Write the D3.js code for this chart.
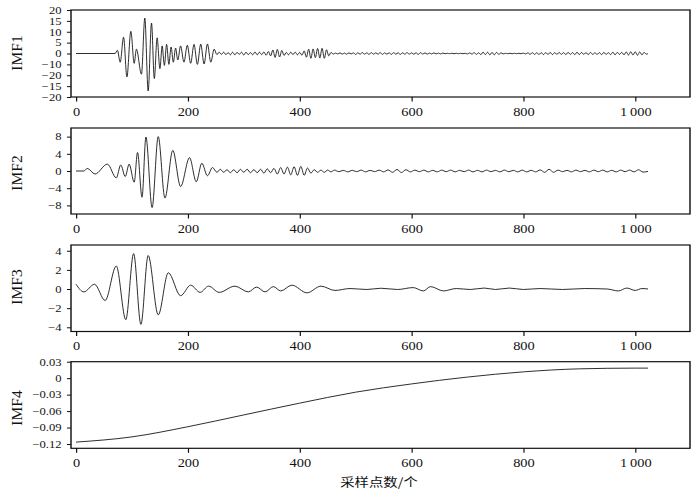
<!DOCTYPE html>
<html>
<head>
<meta charset="utf-8">
<script src="https://cdn.jsdelivr.net/npm/d3@7"></script>
<style>
  body { margin: 0; background: #fff; }
  svg { display: block; }
  text { font-family: "Liberation Serif", "DejaVu Serif", serif; fill: #111; }
</style>
</head>
<body>
<div id="chart"></div>
<script>
// x axis
var xTicks = [0, 200, 400, 600, 800, 1000];
var xTickLabels = ["0", "200", "400", "600", "800", "1\u2009000"];

// y axis ticks per panel (labels as printed in the figure)
var imf1Ticks = [20, 15, 10, 5, 0, -5, -10, -15, -20];
var imf1TickLabels = ["20", "15", "10", "5", "0", "\u221210", "\u221220", "\u221215", "\u221220"];
var imf2Ticks = [8, 4, 0, -4, -8];
var imf2TickLabels = ["8", "4", "0", "\u22124", "\u22128"];
var imf3Ticks = [4, 2, 0, -2, -4];
var imf3TickLabels = ["4", "2", "0", "\u22122", "\u22124"];
var imf4Ticks = [0.03, 0, -0.03, -0.06, -0.09, -0.12];
var imf4TickLabels = ["0.03", "0", "\u22120.03", "\u22120.06", "\u22120.09", "\u22120.12"];

// IMF1: extrema of the burst [sample, value], then half-cycle extrema every 4 samples
var imf1Burst = [[0,0],[70,0],[74,1.5],[79,-4],[85,7.5],[91,-10.8],[98,10.2],[104,-4.5],[108,2],
  [117,-9.5],[123,16.3],[129,-17.2],[135,14],[140,-11.5],[145,7.2],[150,-7],[154,3.5],[158,-5.5],
  [162,4.2],[166,-5],[170,3],[174,-4],[178,2.5],[182,-3],[187,3.5],[193,-4],[199,3.8],[205,-4.5],
  [211,4.2],[217,-5],[223,4.3],[229,-4.8],[235,4.4],[241,-4],[247,2],[252,-0.5]];
var imf1TailStart = 256, imf1TailStep = 4;
var imf1Tail = [
  0.6,-0.4,0.6,-0.5,0.4,-0.6,0.6,-0.6,0.5,-0.4,0.6,-0.7,0.6,-0.5,0.4,-0.6,0.7,-0.6,0.6,-0.5,0.7,-0.8,0.9,-1.1,
  1.6,-1.8,1.9,-1.6,1.4,-0.9,
  0.5,-0.6,0.6,-0.5,0.6,-0.6,0.5,-0.8,1.2,
  -1.7,2.0,-2.2,2.1,-1.9,2.3,-2.1,2.4,-2.2,1.7,-1.1,0.5,
  -0.3,0.2,-0.2,0.3,-0.3,0.2,-0.3,0.3,-0.2,0.3,-0.4,0.3,
  -0.3,0.4,-0.3,0.3,-0.4,0.4,-0.3,0.3,-0.3,0.4,-0.4,0.3,
  -0.3,0.3,-0.4,0.4,-0.3,0.3,-0.4,0.3,-0.3,0.4,-0.3,0.3,
  -0.3,0.3,-0.4,0.4,-0.3,0.3,-0.3,0.2,-0.2,0.3,-0.2,0.2,
  -0.2,0.2,-0.1,0.1,-0.1,0.1,-0.1,0.1,-0.1,0.1,-0.1,0.1,
  -0.2,0.3,-0.3,0.4,-0.4,0.3,
  -0.5,0.6,-0.5,0.6,-0.6,0.5,-0.6,0.5,-0.4,0.3,-0.2,
  0.1,-0.1,0.1,-0.1,0.1,-0.1,0.1,-0.1,0.2,-0.2,
  0.3,-0.4,0.4,-0.4,0.3,-0.4,0.4,-0.5,0.4,-0.4,0.5,-0.5,
  0.4,-0.4,0.5,-0.4,0.4,-0.5,0.5,-0.4,0.4,-0.5,0.6,-0.5,
  0.5,-0.4,0.4,-0.5,0.5,-0.4,0.3,-0.4,0.4,-0.5,0.5,-0.4,
  0.4,-0.5,0.6,-0.6,0.5,-0.4,0.5,-0.6,0.7,-0.7,0.8,-0.7,
  0.8,-0.8,0.7,-0.6,0.5,-0.3];
var imf1End = [[1023, 0]];

// IMF2: burst extrema, then slower small waves
var imf2Burst = [[0,0],[14,0],[20,0.6],[34,-0.7],[56,1.6],[72,-1.6],[80,1.4],[88,-1.3],[95,1.6],
  [104,-2.6],[110,4.3],[118,-6.1],[125,7.9],[136,-8.5],[147,8.0],[159,-6.3],[173,4.8],[187,-3.6],
  [203,3.1],[215,-2.5],[225,1.8],[235,-1.1],[244,0.8],[252,-0.3],[258,0.4]];
var imf2MidStart = 264, imf2MidStep = 6;
var imf2Mid = [
  -0.3,0.3,-0.4,0.3,-0.4,0.4,-0.3,0.4,-0.4,0.3,-0.4,0.4,-0.5,0.5,-0.4,
  0.6,-0.7,0.8,-0.7,0.9,-0.9,1.0,-1.0,1.1,-1.0,0.7,-0.5,
  0.3,-0.3,0.2,-0.3,0.2,-0.2,0.2];
var imf2TailStart = 470, imf2TailStep = 8;
var imf2Tail = [
  -0.15,0.15,-0.2,0.15,-0.15,0.2,-0.2,0.15,-0.15,0.2,-0.2,0.25,
  -0.3,0.35,-0.35,0.3,-0.2,0.2,-0.15,0.2,-0.2,0.15,-0.2,0.2,
  -0.15,0.2,-0.2,0.15,-0.15,0.2,-0.2,0.15,-0.2,0.2,-0.15,0.15,
  -0.2,0.2,-0.15,0.15,-0.2,0.2,-0.2,0.15,-0.2,0.25,-0.3,0.4,
  -0.3,0.2,-0.15,0.15,-0.2,0.2,-0.15,0.15,-0.2,0.2,-0.15,0.2,
  -0.2,0.15,-0.2,0.2,-0.15,0.2,-0.2,0.3,-0.25];
var imf2End = [[1023, -0.1]];

// IMF3 extrema
var imf3Points = [[0,0.5],[14,-0.3],[33,0.5],[52,-1.2],[72,2.4],[89,-3.2],[103,3.7],[116,-3.7],
  [129,3.5],[147,-2.7],[165,1.7],[187,-0.7],[205,0.4],[222,-0.35],[237,0.3],[256,-0.35],[284,0.3],
  [308,-0.3],[323,0.2],[338,-0.3],[353,0.25],[366,-0.2],[386,0.4],[413,-0.4],[438,0.3],[463,-0.15],
  [490,0.05],[520,-0.05],[545,0.08],[575,-0.05],[603,0.15],[621,-0.2],[634,0.25],[657,-0.2],
  [680,0.05],[705,-0.05],[730,0.1],[750,-0.05],[775,0.1],[800,-0.05],[830,0.05],[870,-0.05],
  [910,0.05],[950,0],[970,-0.2],[985,0.1],[1000,-0.15],[1012,0.05],[1023,0]];

// IMF4 (trend)
var imf4Points = [[0,-0.1165],[100,-0.107],[200,-0.0885],[300,-0.067],[400,-0.0455],[500,-0.0255],
  [600,-0.0105],[700,0.002],[800,0.0115],[900,0.017],[1000,0.0183],[1023,0.0183]];

function seq(start, step, vals) {
  return vals.map(function(v, i) { return [start + i * step, v]; });
}

var panels = [
  { name: "IMF1", top: 10, bottom: 97, domain: [-20, 20], ticks: imf1Ticks, labels: imf1TickLabels,
    data: imf1Burst.concat(seq(imf1TailStart, imf1TailStep, imf1Tail), imf1End), ly: 53 },
  { name: "IMF2", top: 128, bottom: 214, domain: [-10, 10], ticks: imf2Ticks, labels: imf2TickLabels,
    data: imf2Burst.concat(seq(imf2MidStart, imf2MidStep, imf2Mid), seq(imf2TailStart, imf2TailStep, imf2Tail), imf2End), ly: 173 },
  { name: "IMF3", top: 245, bottom: 331.5, domain: [-4.44, 4.6], ticks: imf3Ticks, labels: imf3TickLabels,
    data: imf3Points, ly: 287 },
  { name: "IMF4", top: 361.7, bottom: 448.3, domain: [-0.1278, 0.03], ticks: imf4Ticks, labels: imf4TickLabels,
    data: imf4Points, ly: 408 }
];

// the figure is stretched horizontally, draw in a squeezed box and stretch it
var SX = 1.2;
var w = 700, h = 493;
var iw = w / SX;

var svg = d3.select("#chart").append("svg")
  .attr("width", w).attr("height", h)
  .attr("viewBox", "0 0 " + iw + " " + h)
  .attr("preserveAspectRatio", "none");

var left = 71 / SX, right = 690 / SX;
var x = d3.scaleLinear().domain([-9, 1098]).range([left, right]);

panels.forEach(function(p) {
  var y = d3.scaleLinear().domain(p.domain).range([p.bottom, p.top]);
  var g = svg.append("g");

  var line = d3.line()
    .x(function(d) { return x(d[0]); })
    .y(function(d) { return y(d[1]); })
    .curve(d3.curveMonotoneX);

  g.append("path")
    .datum(p.data)
    .attr("d", line)
    .attr("fill", "none")
    .attr("stroke", "#111")
    .attr("stroke-width", 0.8);

  var yAxis = d3.axisLeft(y)
    .tickValues(p.ticks)
    .tickFormat(function(d, i) { return p.labels[i]; })
    .tickSize(3.4).tickPadding(4.5);
  var ya = g.append("g").attr("transform", "translate(" + left + ",0)").call(yAxis)
    .attr("font-family", null).attr("font-size", null);
  ya.select(".domain").remove();
  ya.selectAll("text").style("font-size", "10.5px");
  ya.selectAll("line").attr("stroke", "#111");

  var xAxis = d3.axisBottom(x)
    .tickValues(xTicks)
    .tickFormat(function(d, i) { return xTickLabels[i]; })
    .tickSize(4.5).tickPadding(5.5);
  var xa = g.append("g").attr("transform", "translate(0," + p.bottom + ")").call(xAxis)
    .attr("font-family", null).attr("font-size", null);
  xa.select(".domain").remove();
  xa.selectAll("text").style("font-size", "12px");
  xa.selectAll("line").attr("stroke", "#111");

  g.append("rect")
    .attr("x", left).attr("y", p.top)
    .attr("width", right - left).attr("height", p.bottom - p.top)
    .attr("fill", "none").attr("stroke", "#111").attr("stroke-width", 1.2);

  // undo the stretch for the rotated panel names
  g.append("text")
    .attr("transform", "translate(" + (17 / SX) + "," + p.ly + ") scale(" + (1 / SX) + ",1) rotate(-90)")
    .attr("text-anchor", "middle")
    .attr("dy", "0.35em")
    .style("font-size", "15.5px")
    .text(p.name);
});

svg.append("text")
  .attr("x", 379 / SX).attr("y", 487)
  .attr("text-anchor", "middle")
  .style("font-family", "'Noto Sans CJK SC', sans-serif")
  .style("font-size", "12px")
  .text("采样点数/个");
</script>
</body>
</html>
